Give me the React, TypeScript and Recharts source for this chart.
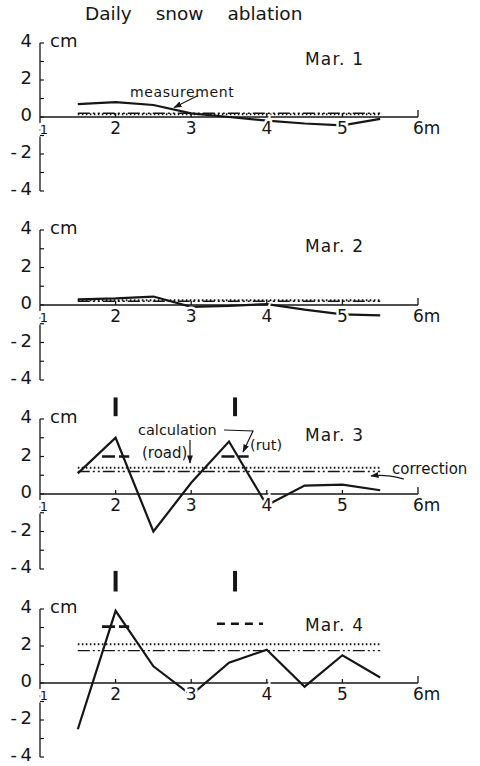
import React from 'react';
import { LineChart, Line, XAxis, YAxis, ReferenceLine } from 'recharts';

const INK = '#161616';
const FONT = '"DejaVu Sans", sans-serif';

// distance across the road (m)
const DISTANCE = [1.5, 2, 2.5, 3, 3.5, 4, 4.5, 5, 5.5];
const X_TICKS = [1, 2, 3, 4, 5, 6];
const Y_TICKS = [-4, -3, -2, -1, 0, 1, 2, 3, 4];
const DAYS = ['Mar. 1', 'Mar. 2', 'Mar. 3', 'Mar. 4'];

// measured daily ablation (cm)
const MEAS_MAR1 = [0.7, 0.8, 0.65, 0.2, 0.0, -0.2, -0.35, -0.45, -0.1];
const MEAS_MAR2 = [0.3, 0.35, 0.45, -0.1, -0.05, 0.05, -0.25, -0.5, -0.55];
const MEAS_MAR3 = [1.1, 3.0, -2.0, 0.6, 2.8, -0.6, 0.45, 0.5, 0.2];
const MEAS_MAR4 = [-2.5, 3.9, 0.9, -0.65, 1.1, 1.8, -0.2, 1.5, 0.3];
const MEASUREMENTS = [MEAS_MAR1, MEAS_MAR2, MEAS_MAR3, MEAS_MAR4];

// level lines (calculation = dotted, correction = dash-dot)
const LEVEL_SPAN = [1.5, 5.5];
const CALC_LEVEL = [0.15, 0.25, 1.4, 2.1];
const CORR_LEVEL = [0.2, 0.2, 1.2, 1.75];

// calculation for road and rut (Mar. 3 and 4 only)
const ROAD_CALC = [null, null, 2.0, 3.05];
const RUT_CALC = [null, null, 2.0, 3.2];
const ROAD_SPAN = [1.82, 2.18];
const RUT_SPAN_MAR3 = [3.4, 3.76];
const RUT_SPAN_MAR4 = [3.34, 3.95];
const WHEEL_X = [2, 3.58];

// layout
const AXIS_X = 40;
const MT = 45;
const MB = 45;
const PLOT_TOP = [42.5, 230, 419, 609];
const PLOT_H = [148, 150, 150, 148];

const series = (xs: number[], ys: (number | null)[]) => xs.map((x, i) => ({ x, v: ys[i] }));

function XTick({ x, payload, zeroY }: any) {
  const v = payload.value;
  const h = v === 6 ? 7 : v === 1 ? 0 : 4;
  const tx = v === 6 ? x - 5 : v === 1 ? x + 4 : x;
  return (
    <g>
      {h > 0 && <line x1={x} x2={x} y1={zeroY} y2={zeroY - h} stroke={INK} strokeWidth={1.3} />}
      <text
        x={tx}
        y={zeroY + 17}
        textAnchor={v === 6 ? 'start' : 'middle'}
        fontSize={v === 1 ? 13 : 17}
        fill={INK}
        stroke="#fff"
        strokeWidth={5}
        paintOrder="stroke"
        fontFamily={FONT}
      >
        {v === 6 ? '6m' : v}
      </text>
    </g>
  );
}

function YTick({ y, payload }: any) {
  const v = payload.value;
  const label = v < 0 ? '-\u2009' + Math.abs(v) : String(v);
  return (
    <g>
      <line x1={AXIS_X} x2={AXIS_X + 4} y1={y} y2={y} stroke={INK} strokeWidth={1.2} />
      {v % 2 === 0 && (
        <text x={32} y={y} dy={4} textAnchor="end" fontSize={18} fill={INK} fontFamily={FONT}>
          {label}
        </text>
      )}
    </g>
  );
}

function Panel({ i, children }: { i: number; children?: React.ReactNode }) {
  const plotH = PLOT_H[i];
  const chartTop = PLOT_TOP[i] - MT;
  const zeroY = MT + plotH / 2;
  const meas = series(DISTANCE, MEASUREMENTS[i]);
  const calc = series(LEVEL_SPAN, [CALC_LEVEL[i], CALC_LEVEL[i]]);
  const corr = series(LEVEL_SPAN, [CORR_LEVEL[i], CORR_LEVEL[i]]);
  const road = ROAD_CALC[i];
  const rut = RUT_CALC[i];
  const rutSpan = i === 3 ? RUT_SPAN_MAR4 : RUT_SPAN_MAR3;
  return (
    <div style={{ position: 'absolute', left: 0, top: chartTop }}>
      <LineChart width={480} height={MT + plotH + MB} margin={{ top: MT, right: 62, bottom: MB - 20, left: 0 }}>
        <ReferenceLine y={0} stroke={INK} strokeWidth={1.3} />
        <Line data={corr} dataKey="v" stroke={INK} strokeWidth={1.4} strokeDasharray="12 3 2 3 2 3" dot={false} isAnimationActive={false} />
        <Line data={calc} dataKey="v" stroke={INK} strokeWidth={2} strokeDasharray="1.6 2.4" dot={false} isAnimationActive={false} />
        {road !== null && (
          <Line data={series(ROAD_SPAN, [road, road])} dataKey="v" stroke={INK} strokeWidth={2.6} strokeDasharray="13 4" dot={false} isAnimationActive={false} />
        )}
        {rut !== null && (
          <Line data={series(rutSpan, [rut, rut])} dataKey="v" stroke={INK} strokeWidth={2.6} strokeDasharray={i === 3 ? '8 6' : '13 4'} dot={false} isAnimationActive={false} />
        )}
        <Line data={meas} dataKey="v" stroke={INK} strokeWidth={2.2} dot={false} isAnimationActive={false} />
        {i === 2 &&
          WHEEL_X.map((w) => (
            <ReferenceLine key={'u' + w} segment={[{ x: w, y: 4.15 }, { x: w, y: 5.15 }]} stroke={INK} strokeWidth={4} ifOverflow="visible" />
          ))}
        {i === 2 &&
          WHEEL_X.map((w) => (
            <ReferenceLine key={'d' + w} segment={[{ x: w, y: -4.1 }, { x: w, y: -5.2 }]} stroke={INK} strokeWidth={4} ifOverflow="visible" />
          ))}
        <XAxis
          dataKey="x"
          type="number"
          domain={[1, 6]}
          ticks={X_TICKS}
          height={20}
          axisLine={false}
          tickLine={false}
          tick={(p: any) => <XTick {...p} zeroY={zeroY} />}
        />
        <YAxis
          type="number"
          domain={[-4, 4]}
          ticks={Y_TICKS}
          width={AXIS_X}
          axisLine={{ stroke: INK, strokeWidth: 1.3 }}
          tickLine={false}
          interval={0}
          tick={(p: any) => <YTick {...p} />}
        />
        <g transform={`translate(0, ${-chartTop})`} fontFamily={FONT} fill={INK}>
          <defs>
            <marker id={'ah' + i} viewBox="0 0 10 10" refX="9" refY="5" markerWidth="7" markerHeight="7" orient="auto">
              <path d="M0,1.5 L10,5 L0,8.5 z" fill={INK} />
            </marker>
          </defs>
          <text x={50} y={PLOT_TOP[i] + 4} fontSize={18}>cm</text>
          <text x={305} y={PLOT_TOP[i] + 22} fontSize={17} letterSpacing={1.2}>
            {DAYS[i]}
          </text>
          {children &&
            React.Children.map(children, (c) =>
              React.isValidElement(c) ? React.cloneElement(c as any, { markerEnd: (c as any).type === 'path' ? `url(#ah${i})` : undefined }) : c
            )}
        </g>
      </LineChart>
    </div>
  );
}

export default function App() {
  return (
    <div style={{ position: 'absolute', left: 0, top: 0, width: 480, height: 766, background: '#fff', fontFamily: FONT, color: INK }}>
      <div style={{ position: 'absolute', left: 85, top: 3, fontSize: 18.5, wordSpacing: 18, whiteSpace: 'nowrap' }}>
        Daily snow ablation
      </div>
      <Panel i={0}>
        <text x={130} y={96} fontSize={14} letterSpacing={0.6}>measurement</text>
        <path d="M198,95 L174,107" stroke={INK} strokeWidth={1.2} fill="none" />
      </Panel>
      <Panel i={1} />
      <Panel i={2}>
        <text x={138} y={435} fontSize={14.5}>calculation</text>
        <path d="M224,430 L253,431 L243,452" stroke={INK} strokeWidth={1.2} fill="none" />
        <path d="M190,440 L190,463" stroke={INK} strokeWidth={1.2} fill="none" />
        <text x={142} y={458} fontSize={15}>(road)</text>
        <text x={250} y={450} fontSize={14.5}>(rut)</text>
        <text x={392} y={474} fontSize={15}>correction</text>
        <path d="M404,479 C396,477 386,474 371,476" stroke={INK} strokeWidth={1.2} fill="none" />
      </Panel>
      <Panel i={3} />
    </div>
  );
}
